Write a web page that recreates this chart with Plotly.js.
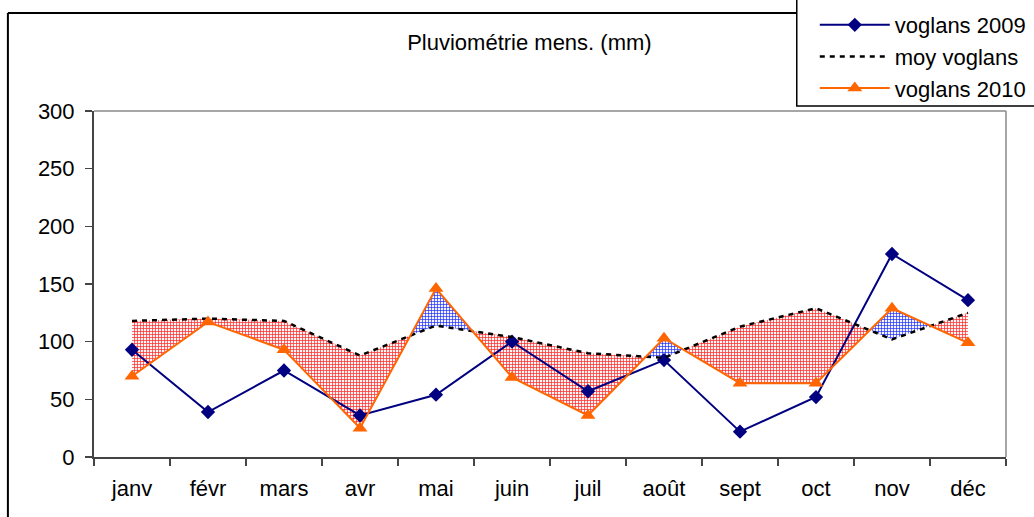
<!DOCTYPE html>
<html>
<head>
<meta charset="utf-8">
<script src="https://cdn.plot.ly/plotly-3.0.1.min.js"></script>
<style>
html,body{margin:0;padding:0;background:#fff;}
#chart{width:1034px;height:517px;}
</style>
</head>
<body>
<div id="chart"></div>
<script>
var months = ["janv","févr","mars","avr","mai","juin","juil","août","sept","oct","nov","déc"];
var voglans2009 = [93, 39, 75, 36, 54, 100, 57, 84, 22, 52, 176, 136];
var moyVoglans = [118, 120, 118, 88, 114, 104, 90, 86, 113, 129, 102, 125];
var voglans2010 = [70, 117, 93, 25, 146, 69, 36, 103, 64, 64, 129, 99];
var yTicks = [0, 50, 100, 150, 200, 250, 300];

var idx = months.map(function(_, i){ return i; });

// Build fill polylines between the average and 2010 (with crossing points)
var fx = [], fmin = [], fmid = [], fmax = [];
function pushPt(x, m, v){
  fx.push(x); fmid.push(m); fmin.push(Math.min(m, v)); fmax.push(Math.max(m, v));
}
for (var i = 0; i < months.length; i++) {
  pushPt(i, moyVoglans[i], voglans2010[i]);
  if (i < months.length - 1) {
    var d0 = voglans2010[i] - moyVoglans[i];
    var d1 = voglans2010[i+1] - moyVoglans[i+1];
    if (d0 * d1 < 0) {
      var t = d0 / (d0 - d1);
      var yc = moyVoglans[i] + t * (moyVoglans[i+1] - moyVoglans[i]);
      pushPt(i + t, yc, yc);
    }
  }
}

var traces = [
  {x: fx, y: fmin, mode: 'lines', line: {width: 0}, showlegend: false, hoverinfo: 'skip'},
  {x: fx, y: fmid, mode: 'lines', line: {width: 0}, fill: 'tonexty', fillcolor: 'rgba(255,255,255,1)',
   fillpattern: {shape: '+', fgcolor: '#ff2020', bgcolor: '#fff4f4', size: 3, solidity: 0.4},
   showlegend: false, hoverinfo: 'skip'},
  {x: fx, y: fmid, mode: 'lines', line: {width: 0}, showlegend: false, hoverinfo: 'skip'},
  {x: fx, y: fmax, mode: 'lines', line: {width: 0}, fill: 'tonexty', fillcolor: 'rgba(255,255,255,1)',
   fillpattern: {shape: '+', fgcolor: '#1a2cff', bgcolor: '#f4f4ff', size: 3, solidity: 0.4},
   showlegend: false, hoverinfo: 'skip'},
  {x: idx, y: voglans2009, name: 'voglans 2009', mode: 'lines+markers',
   line: {color: '#000080', width: 2}, marker: {symbol: 'diamond', size: 11, color: '#000080'}},
  {x: idx, y: moyVoglans, name: 'moy voglans', mode: 'lines',
   line: {color: '#000000', width: 2.5, dash: '5px,5px'}},
  {x: idx, y: voglans2010, name: 'voglans 2010', mode: 'lines+markers',
   line: {color: '#ff6600', width: 2}, marker: {symbol: 'triangle-up', size: 13, color: '#ff6600'}}
];

var font = {family: 'Liberation Sans, Arial, sans-serif', color: '#000'};

var layout = {
  width: 1034, height: 517,
  margin: {l: 94, r: 28, t: 111, b: 60, autoexpand: false},
  paper_bgcolor: '#fff', plot_bgcolor: '#fff',
  font: font,
  showlegend: true,
  title: {text: 'Pluviométrie mens. (mm)', font: {family: font.family, size: 22, color: '#000'},
          x: 0.512, xanchor: 'center', y: 0.918, yanchor: 'middle'},
  xaxis: {
    range: [-0.5, 11.5], tickmode: 'array', tickvals: idx, ticktext: months,
    ticks: '', showgrid: false, zeroline: false, showline: true, linecolor: '#444', linewidth: 2,
    tickfont: {family: font.family, size: 22, color: '#000'}, ticklabelstandoff: 11,
    minor: {tickmode: 'linear', tick0: -0.5, dtick: 1, ticks: 'outside', ticklen: 7, tickcolor: '#444', tickwidth: 1.5, showgrid: false},
    fixedrange: true
  },
  yaxis: {
    range: [0, 300], tickmode: 'array', tickvals: yTicks, ticktext: yTicks.map(String),
    ticks: 'outside', ticklen: 7, tickcolor: '#444', tickwidth: 1.5,
    showgrid: false, zeroline: false, showline: true, linecolor: '#444', linewidth: 2,
    tickfont: {family: font.family, size: 22, color: '#000'}, ticklabelstandoff: 6,
    fixedrange: true
  },
  legend: {
    x: (814 - 94) / 911, xanchor: 'left', y: 1 + 107 / 346, yanchor: 'top',
    bgcolor: 'rgba(0,0,0,0)', borderwidth: 0,
    font: {family: font.family, size: 22, color: '#000'},
    itemwidth: 70, tracegroupgap: 0, traceorder: 'normal'
  },
  shapes: [
    {type: 'line', xref: 'paper', yref: 'paper', x0: 0, x1: 1, y0: 1, y1: 1, line: {color: '#888', width: 1.5}},
    {type: 'line', xref: 'paper', yref: 'paper', x0: 1, x1: 1, y0: 0, y1: 1, line: {color: '#888', width: 1.5}},
    {type: 'line', xref: 'paper', yref: 'paper', x0: -86/911, x1: -86/911, y0: -60/346, y1: 1 + 98/346, line: {color: '#000', width: 2}},
    {type: 'line', xref: 'paper', yref: 'paper', x0: -86/911, x1: 702/911, y0: 1 + 98/346, y1: 1 + 98/346, line: {color: '#000', width: 2}},
    {type: 'rect', xref: 'paper', yref: 'paper', x0: 702/911, x1: 946/911, y0: 1 + 5/346, y1: 1 + 116/346,
     line: {color: '#000', width: 1.5}, fillcolor: 'rgba(0,0,0,0)'}
  ]
};

Plotly.newPlot('chart', traces, layout, {displayModeBar: false, staticPlot: true});
</script>
</body>
</html>
